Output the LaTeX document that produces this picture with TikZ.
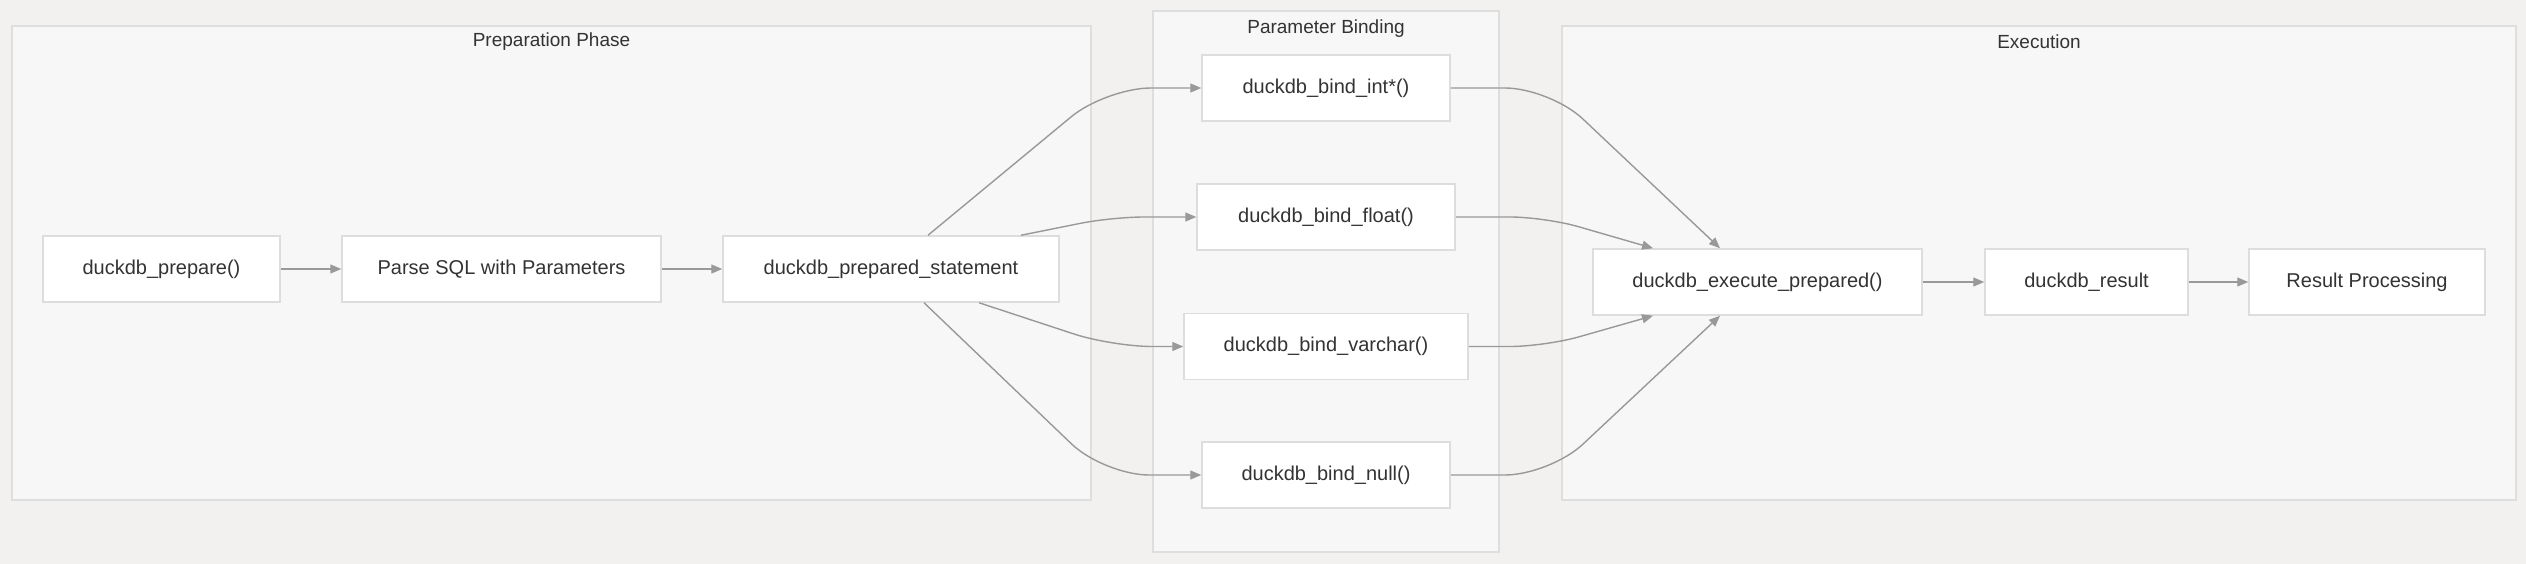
\documentclass[tikz,border=0pt]{standalone}
\usepackage{fontspec}
\setmainfont{Liberation Sans}
\usetikzlibrary{arrows.meta}
\definecolor{bgc}{HTML}{F2F1EF}
\definecolor{clfill}{HTML}{F7F7F7}
\definecolor{clborder}{HTML}{DEDEDE}
\definecolor{nborder}{HTML}{DDDDDD}
\definecolor{edgec}{HTML}{999999}
\definecolor{txt}{HTML}{333333}
\tikzset{
  cluster/.style={draw=clborder, fill=clfill, line width=1.2pt, inner sep=0pt},
  clustertitle/.style={text=txt, font=\fontsize{19}{23}\selectfont, inner sep=0pt},
  box/.style={draw=nborder, fill=white, line width=1.5pt, inner sep=0pt, minimum height=66pt,
    text=txt, font=\fontsize{20}{24}\selectfont},
  arr/.style={draw=edgec, line width=1.4pt, -{Triangle[length=11pt,width=9pt]}}
}
\begin{document}
\begin{tikzpicture}[x=1pt,y=-1pt]
\fill[bgc] (0,0) rectangle (2526,564);
\useasboundingbox (0,0) rectangle (2526,564);
% clusters
\node[cluster, minimum width=1079pt, minimum height=474pt] (prepcl) at (551.5,263) {};
\node[cluster, minimum width=346pt, minimum height=541pt] (bindcl) at (1326,281.5) {};
\node[cluster, minimum width=954pt, minimum height=474pt] (execcl) at (2039,263) {};
\node[clustertitle] (preptitle) at (551.5,42) {Preparation Phase};
\node[clustertitle] (bindtitle) at (1326,28.5) {Parameter Binding};
\node[clustertitle] (exectitle) at (2039,42) {Execution};
% nodes
\node[box, minimum width=237pt] (prep) at (161.5,269) {duckdb\_prepare()};
\node[box, minimum width=319pt] (parse) at (501.5,269) {Parse SQL with Parameters};
\node[box, minimum width=336pt] (pst) at (891,269) {duckdb\_prepared\_statement};
\node[box, minimum width=248pt] (bint) at (1326,88) {duckdb\_bind\_int*()};
\node[box, minimum width=258pt] (bfloat) at (1326,217) {duckdb\_bind\_float()};
\node[box, minimum width=284pt] (bvarchar) at (1326,346.5) {duckdb\_bind\_varchar()};
\node[box, minimum width=248pt] (bnull) at (1326,475) {duckdb\_bind\_null()};
\node[box, minimum width=329pt] (exec) at (1757.5,282) {duckdb\_execute\_prepared()};
\node[box, minimum width=203pt] (res) at (2086.5,282) {duckdb\_result};
\node[box, minimum width=236pt] (proc) at (2367,282) {Result Processing};
% corner points of the curved connectors
\coordinate (c1) at (1106,88);
\coordinate (c2) at (1112,217);
\coordinate (c3) at (1112,346.5);
\coordinate (c4) at (1104,475);
\coordinate (d1) at (1550,88);
\coordinate (d2) at (1545,217);
\coordinate (d3) at (1545,346.5);
\coordinate (d4) at (1550,475);
% edges
\draw[arr] (prep) -- (parse);
\draw[arr] (parse) -- (pst);
\draw[arr, rounded corners=45pt] ([xshift=37pt]pst.north) -- (c1) -- (bint.west);
\draw[arr, rounded corners=32pt] ([xshift=130pt]pst.north) -- (c2) -- (bfloat.west);
\draw[arr, rounded corners=40pt] ([xshift=88pt]pst.south) -- (c3) -- (bvarchar.west);
\draw[arr, rounded corners=45pt] ([xshift=33pt]pst.south) -- (c4) -- (bnull.west);
\draw[arr, rounded corners=45pt] (bint.east) -- (d1) -- ([xshift=-37.5pt]exec.north);
\draw[arr, rounded corners=35pt] (bfloat.east) -- (d2) -- ([xshift=-104.5pt]exec.north);
\draw[arr, rounded corners=35pt] (bvarchar.east) -- (d3) -- ([xshift=-104.5pt]exec.south);
\draw[arr, rounded corners=45pt] (bnull.east) -- (d4) -- ([xshift=-37.5pt]exec.south);
\draw[arr] (exec) -- (res);
\draw[arr] (res) -- (proc);
\end{tikzpicture}
\end{document}
